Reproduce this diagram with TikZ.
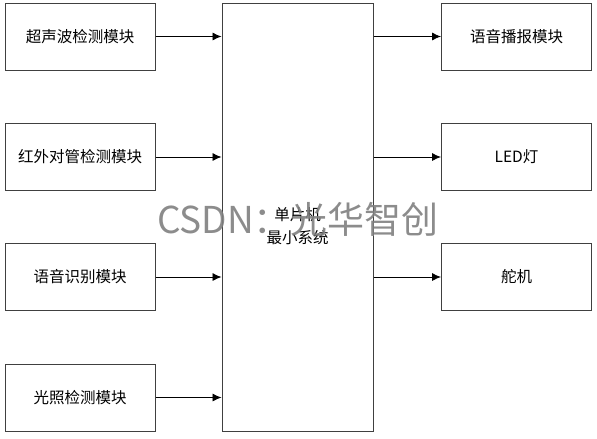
\documentclass[tikz,border=0pt]{standalone}
\usepackage{fontspec}
\setmainfont{Noto Sans CJK SC}
\usetikzlibrary{arrows.meta,positioning}
\tikzset{>={Latex[length=9pt,width=8pt]}}
\tikzset{
  modbox/.style={draw=black!75,line width=1pt,minimum width=150pt,minimum height=67pt,
    inner sep=0pt,font=\fontsize{15.5}{19}\selectfont},
  link/.style={->,line width=0.8pt}
}

\begin{document}
\begin{tikzpicture}[x=1pt,y=-1pt]
        \useasboundingbox (0,0) rectangle (597,439);
        % input modules
        \node[modbox] (ultra) at (80,36.5) {超声波检测模块};
        \node[modbox] (ir) at (80,157) {红外对管检测模块};
        \node[modbox] (asr) at (80,277) {语音识别模块};
        \node[modbox] (light) at (80,397.5) {光照检测模块};
        % controller
        \node[modbox,minimum width=151pt,minimum height=428pt,align=center,
        font=\fontsize{15.5}{23}\selectfont] (mcu) at (297.5,217)
        {\rule{0pt}{31pt}单片机\\最小系统};
        % output modules
        \node[modbox] (tts) at (516.5,36.5) {语音播报模块};
        \node[modbox] (led) at (516.5,157) {LED灯};
        \node[modbox] (servo) at (516.5,277) {舵机};
        \foreach \m in {ultra,ir,asr,light}
          \draw[link] (\m.east) -- (\m.east -| mcu.west);
        \foreach \m in {tts,led,servo}
          \draw[link] (\m.west -| mcu.east) -- (\m.west);
        % watermark
        \node[text=black!50,opacity=0.9,font=\fontsize{37}{40}\selectfont,inner sep=0pt]
        (mark) at (298,219) {CSDN：光华智创};
      \end{tikzpicture}
\end{document}
